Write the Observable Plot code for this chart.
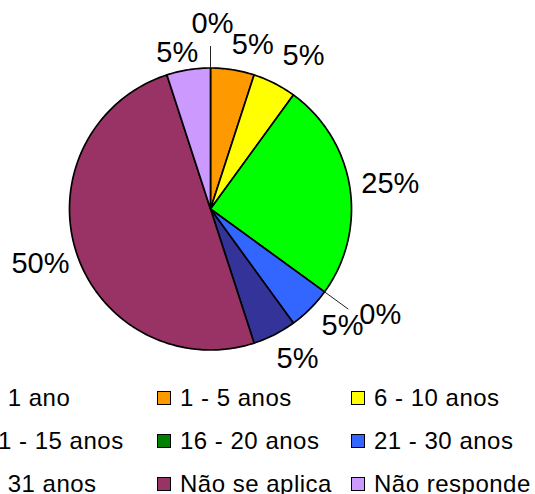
<!DOCTYPE html>
<html>
<head>
<meta charset="utf-8">
<script src="https://cdn.jsdelivr.net/npm/d3@7"></script>
<script src="https://cdn.jsdelivr.net/npm/@observablehq/plot@0.6"></script>
<style>
  html, body { margin: 0; padding: 0; background: #fff; }
  #wrap { position: relative; width: 535px; height: 494px; overflow: hidden;
          font-family: "Liberation Sans", Arial, Helvetica, sans-serif; }
  #chart { position: absolute; left: 0; top: 0; }
  .item { position: absolute; display: flex; align-items: center; height: 30px;
          font-size: 24px; letter-spacing: 0.5px; color: #000; white-space: nowrap; }
  .sw { width: 12px; height: 12px; border: 1.5px solid #000; margin-right: 9px; flex: none; }
</style>
</head>
<body>
<div id="wrap"><div id="chart"></div><div id="legend"></div></div>
<script>
// ---- data ----
const categories = ["< 1 ano", "1 - 5 anos", "6 - 10 anos", "11 - 15 anos", "16 - 20 anos",
                    "21 - 30 anos", "> 31 anos", "Não se aplica", "Não responde"];
const values = [0, 5, 5, 25, 0, 5, 5, 50, 5];
const labels = ["0%", "5%", "5%", "25%", "0%", "5%", "5%", "50%", "5%"];
const colors = ["#9999FF", "#FF9900", "#FFFF00", "#00FF00", "#008000",
                "#3366FF", "#333399", "#993366", "#CC99FF"];

// ---- layout ----
const W = 535, H = 380;
const cx = 210, cy = 208.5, r = 141;
const labelPad = 12, fontSize = 29;
// small per-label shifts (overlap avoidance, like the original)
const labelShift = [[2, -21], [15, -2], [14, -7], [0, 0], [29, 9], [9, 1], [8, 4], [3, 4], [-6, 6]];

const total = d3.sum(values);
const pt = (a, rad) => ({x: cx + rad * Math.sin(a), y: cy - rad * Math.cos(a)});

// slices
let acc = 0;
const slices = categories.map((c, i) => {
  const a0 = acc / total * 2 * Math.PI;
  acc += values[i];
  const a1 = acc / total * 2 * Math.PI;
  return {cat: c, value: values[i], color: colors[i], label: labels[i], a0, a1, mid: (a0 + a1) / 2, i};
});

const polyPts = [];
for (const s of slices) {
  if (s.value <= 0) continue;
  polyPts.push({cat: s.cat, color: s.color, ...pt(0, 0)});
  const n = Math.max(2, Math.ceil((s.a1 - s.a0) / (Math.PI / 180)));
  for (let k = 0; k <= n; k++) {
    const a = s.a0 + (s.a1 - s.a0) * k / n;
    polyPts.push({cat: s.cat, color: s.color, ...pt(a, r)});
  }
  polyPts.push({cat: s.cat, color: s.color, ...pt(0, 0)});
}

// label positions
const charW = {"0": 0.556, "1": 0.556, "2": 0.556, "5": 0.556, "%": 0.889};
const labelData = slices.map(s => {
  const w = d3.sum(s.label.split(""), ch => charW[ch] || 0.556) * fontSize;
  const p = pt(s.mid, r + labelPad);
  const x = p.x + Math.sin(s.mid) * w / 2 + labelShift[s.i][0];
  const y = p.y - Math.cos(s.mid) * 11 + labelShift[s.i][1];
  const dist = Math.hypot(x - cx, y - cy);
  const e0 = pt(s.mid, r), e1 = pt(s.mid, (r + dist) / 2);
  return {...s, x, y, lx1: e0.x, ly1: e0.y, lx2: e1.x, ly2: e1.y};
});
const leaders = labelData.filter(d => d.value === 0);

const plot = Plot.plot({
  width: W, height: H, margin: 0,
  x: {domain: [0, W], range: [0, W], axis: null},
  y: {domain: [0, H], range: [0, H], axis: null},
  color: {type: "identity"},
  style: {fontFamily: "'Liberation Sans', Arial, Helvetica, sans-serif", background: "transparent"},
  marks: [
    Plot.line(polyPts, {x: "x", y: "y", z: "cat", fill: "color", stroke: "#000", strokeWidth: 1.7, strokeLinejoin: "round", curve: "linear"}),
    Plot.link(leaders, {x1: "lx1", y1: "ly1", x2: "lx2", y2: "ly2", stroke: "#222", strokeWidth: 1}),
    Plot.text(labelData, {x: "x", y: "y", text: "label", fontSize: fontSize, fill: "#000", textAnchor: "middle", lineAnchor: "middle"})
  ]
});
document.getElementById("chart").appendChild(plot);

// legend (3 columns, left column partly cut off as in the original)
const colX = [-37, 157, 351];
const rowY = [398, 441, 484];
const legend = document.getElementById("legend");
categories.forEach((c, i) => {
  const it = document.createElement("div");
  it.className = "item";
  it.style.left = colX[i % 3] + "px";
  it.style.top = (rowY[Math.floor(i / 3)] - 15) + "px";
  const sw = document.createElement("div");
  sw.className = "sw";
  sw.style.background = colors[i];
  const tx = document.createElement("span");
  tx.textContent = c;
  it.appendChild(sw); it.appendChild(tx);
  legend.appendChild(it);
});
</script>
</body>
</html>
